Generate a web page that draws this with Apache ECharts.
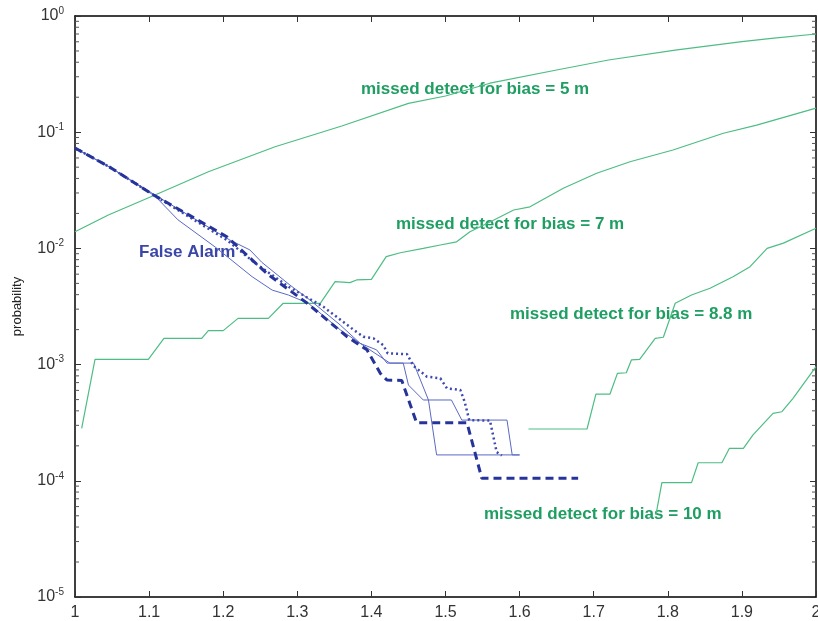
<!DOCTYPE html>
<html lang="en">
<head>
    <meta charset="UTF-8">
    <title>False alarm / missed detect probability</title>
    <script src="https://cdn.jsdelivr.net/npm/echarts@6/dist/echarts.min.js"></script>
    <style>
        html, body { margin: 0; padding: 0; background: #fff; }
    </style>
</head>
<body>
<div id="main" style="width:818px;height:621px;"></div>
<script type="text/javascript">
    // missed detect curves, [threshold, probability]
    var md5 = [[1.0,0.0139],[1.045,0.0194],[1.108,0.0288],[1.18,0.0457],[1.234,0.0615],[1.27,0.075],[1.36,0.113],
        [1.45,0.177],[1.5,0.205],[1.56,0.264],[1.65,0.343],[1.72,0.418],[1.81,0.509],[1.9,0.601],[1.94,0.643],[2.0,0.70]];
    var md7 = [[1.009,2.83e-4],[1.027,1.11e-3],[1.099,1.11e-3],[1.12,1.68e-3],[1.171,1.68e-3],[1.18,1.96e-3],[1.2,1.96e-3],
        [1.22,2.5e-3],[1.261,2.5e-3],[1.281,3.37e-3],[1.331,3.37e-3],[1.351,5.17e-3],[1.371,5.07e-3],[1.38,5.35e-3],
        [1.40,5.42e-3],[1.42,8.49e-3],[1.439,9.18e-3],[1.47,0.0100],[1.493,0.0107],[1.515,0.0114],[1.533,0.0139],
        [1.56,0.0169],[1.592,0.0214],[1.614,0.0228],[1.659,0.0329],[1.704,0.0443],[1.749,0.0557],[1.807,0.0703],
        [1.875,0.098],[1.92,0.115],[2.0,0.161]];
    var md88 = [[1.612,2.79e-4],[1.691,2.79e-4],[1.703,5.58e-4],[1.722,5.58e-4],[1.732,8.41e-4],[1.744,8.51e-4],
        [1.751,1.10e-3],[1.762,1.11e-3],[1.783,1.68e-3],[1.794,1.72e-3],[1.81,3.37e-3],[1.832,3.97e-3],[1.857,4.54e-3],
        [1.888,5.71e-3],[1.911,6.96e-3],[1.934,0.0100],[1.956,0.0111],[2.0,0.0149]];
    var md10 = [[1.784,5.1e-5],[1.792,9.64e-5],[1.832,9.64e-5],[1.841,1.43e-4],[1.873,1.43e-4],[1.883,1.9e-4],
        [1.902,1.9e-4],[1.915,2.48e-4],[1.942,3.81e-4],[1.954,3.93e-4],[1.969,5.13e-4],[2.0,9.6e-4]];

    // false alarm curves
    var faDashed = [[1.0,0.0731],[1.047,0.05],[1.106,0.0288],[1.15,0.020],[1.205,0.0126],[1.26,6.0e-3],[1.313,3.39e-3],
        [1.367,1.74e-3],[1.394,1.34e-3],[1.412,8.41e-4],[1.421,7.36e-4],[1.441,7.3e-4],[1.461,3.16e-4],[1.529,3.16e-4],
        [1.549,1.05e-4],[1.679,1.05e-4]];
    var faDotted = [[1.0,0.0731],[1.047,0.05],[1.106,0.0288],[1.205,0.0118],[1.243,7.48e-3],[1.29,4.6e-3],[1.335,3.15e-3],
        [1.353,2.58e-3],[1.376,1.99e-3],[1.389,1.74e-3],[1.403,1.68e-3],[1.416,1.47e-3],[1.422,1.25e-3],[1.448,1.23e-3],
        [1.457,9.72e-4],[1.475,7.87e-4],[1.493,7.62e-4],[1.502,6.25e-4],[1.52,6.04e-4],[1.526,4.76e-4],[1.532,3.33e-4],
        [1.56,3.3e-4],[1.569,1.77e-4],[1.576,1.65e-4]];
    var faThinA = [[1.0,0.0731],[1.047,0.05],[1.108,0.0282],[1.139,0.0176],[1.189,0.0103],[1.239,5.71e-3],[1.266,4.38e-3],
        [1.288,3.97e-3],[1.315,3.37e-3],[1.358,1.99e-3],[1.398,1.34e-3],[1.425,1.03e-3],[1.457,1.03e-3],[1.477,4.96e-4],
        [1.488,1.67e-4],[1.6,1.67e-4]];
    var faThinB = [[1.0,0.0731],[1.047,0.05],[1.108,0.0288],[1.209,0.0118],[1.236,9.7e-3],[1.252,7.6e-3],[1.29,4.84e-3],
        [1.317,3.6e-3],[1.358,2.19e-3],[1.385,1.52e-3],[1.407,1.34e-3],[1.421,1.03e-3],[1.443,1.03e-3],[1.45,6.67e-4],
        [1.47,4.96e-4],[1.508,4.96e-4],[1.522,3.33e-4],[1.583,3.33e-4],[1.59,1.67e-4],[1.6,1.67e-4]];

    var threshold = 1e-3;

    // minor ticks of the log axis (2..9 in each decade)
    var minorTicks = [];
    for (var d = -5; d < 0; d++) {
        for (var k = 2; k <= 9; k++) {
            minorTicks.push([1, k * Math.pow(10, d)]);
        }
    }

    var green = '#4dbd84';
    var greenText = '#1f9e62';
    var darkBlue = '#26339a';
    var thinBlue = '#5a68c4';

    var myChart = echarts.init(document.getElementById('main'));

    function greenLine(data) {
        return {
            type: 'line', data: data, showSymbol: false, symbol: 'none', silent: true,
            lineStyle: {color: green, width: 1.2}
        };
    }

    var supLabel = {
        formatter: function (v) {
            var e = Math.round(Math.log10(v));
            return '{b|10}{s|' + e + '}';
        },
        margin: 11,
        rich: {
            b: {fontSize: 16, color: '#333', fontFamily: 'Liberation Sans'},
            s: {fontSize: 10, color: '#333', fontFamily: 'Liberation Sans', verticalAlign: 'top', lineHeight: 20}
        }
    };

    myChart.setOption({
        animation: false,
        grid: {left: 75, right: 2, top: 16, bottom: 24, outerBoundsMode: 'none', containLabel: false},
        xAxis: [{
            type: 'value', min: 1, max: 2, interval: 0.1,
            axisLine: {lineStyle: {color: '#000', width: 1.5}},
            axisTick: {inside: true, length: 6, lineStyle: {color: '#333'}},
            axisLabel: {
                fontSize: 16, color: '#333', fontFamily: 'Liberation Sans', margin: 8,
                formatter: function (v) { return String(Math.round(v * 10) / 10); }
            },
            splitLine: {show: false}
        }, {
            type: 'value', min: 1, max: 2, interval: 0.1, position: 'top',
            axisLine: {lineStyle: {color: '#000', width: 1.5}},
            axisTick: {inside: true, length: 6, lineStyle: {color: '#333'}},
            axisLabel: {show: false},
            splitLine: {show: false}
        }],
        yAxis: [{
            type: 'log', logBase: 10, min: 1e-5, max: 1,
            name: 'probability', nameLocation: 'middle', nameGap: 51, nameRotate: 90,
            nameTextStyle: {fontSize: 13, color: '#222', fontFamily: 'Liberation Sans'},
            axisLine: {lineStyle: {color: '#000', width: 1.5}},
            axisTick: {inside: true, length: 6, lineStyle: {color: '#333'}},
            axisLabel: supLabel,
            splitLine: {show: false}
        }, {
            type: 'log', logBase: 10, min: 1e-5, max: 1, position: 'right',
            axisLine: {lineStyle: {color: '#000', width: 1.5}},
            axisTick: {inside: true, length: 6, lineStyle: {color: '#333'}},
            axisLabel: {show: false},
            splitLine: {show: false}
        }],
        series: [
            greenLine(md5),
            greenLine(md7),
            greenLine(md88),
            greenLine(md10),
            {
                type: 'line', data: faThinA, symbol: 'none', silent: true,
                lineStyle: {color: thinBlue, width: 1}
            },
            {
                type: 'line', data: faThinB, symbol: 'none', silent: true,
                lineStyle: {color: thinBlue, width: 1}
            },
            {
                type: 'line', data: faDotted, symbol: 'none', silent: true,
                lineStyle: {color: '#3c49b0', width: 2.5, type: [2, 3]}
            },
            {
                type: 'line', data: faDashed, symbol: 'none', silent: true,
                lineStyle: {color: darkBlue, width: 3, type: [8, 5]},
                markLine: {
                    silent: true, symbol: 'none', label: {show: false},
                    lineStyle: {color: '#8a8a8a', width: 1.5, type: 'solid'},
                    data: [{yAxis: threshold}]
                }
            },
            {
                // minor ticks on left and right frame
                type: 'custom', silent: true, clip: false,
                data: minorTicks,
                encode: {x: 0, y: 1},
                renderItem: function (params, api) {
                    var y = api.value(1);
                    var pl = api.coord([1, y]);
                    var pr = api.coord([2, y]);
                    var st = {stroke: '#555', lineWidth: 1};
                    return {
                        type: 'group', children: [
                            {type: 'line', shape: {x1: pl[0], y1: pl[1], x2: pl[0] + 4, y2: pl[1]}, style: st},
                            {type: 'line', shape: {x1: pr[0], y1: pr[1], x2: pr[0] - 4, y2: pr[1]}, style: st}
                        ]
                    };
                }
            }
        ],
        graphic: [
            {type: 'text', left: 361, top: 81, style: {text: 'missed detect for bias = 5 m', fill: greenText, font: 'bold 17px "Liberation Sans"'}},
            {type: 'text', left: 396, top: 216, style: {text: 'missed detect for bias = 7 m', fill: greenText, font: 'bold 17px "Liberation Sans"'}},
            {type: 'text', left: 510, top: 306, style: {text: 'missed detect for bias = 8.8 m', fill: greenText, font: 'bold 17px "Liberation Sans"'}},
            {type: 'text', left: 484, top: 506, style: {text: 'missed detect for bias = 10 m', fill: greenText, font: 'bold 17px "Liberation Sans"'}},
            {type: 'text', left: 139, top: 244, style: {text: 'False Alarm', fill: '#3a47a8', font: 'bold 17px "Liberation Sans"'}}
        ]
    });
</script>
</body>
</html>
